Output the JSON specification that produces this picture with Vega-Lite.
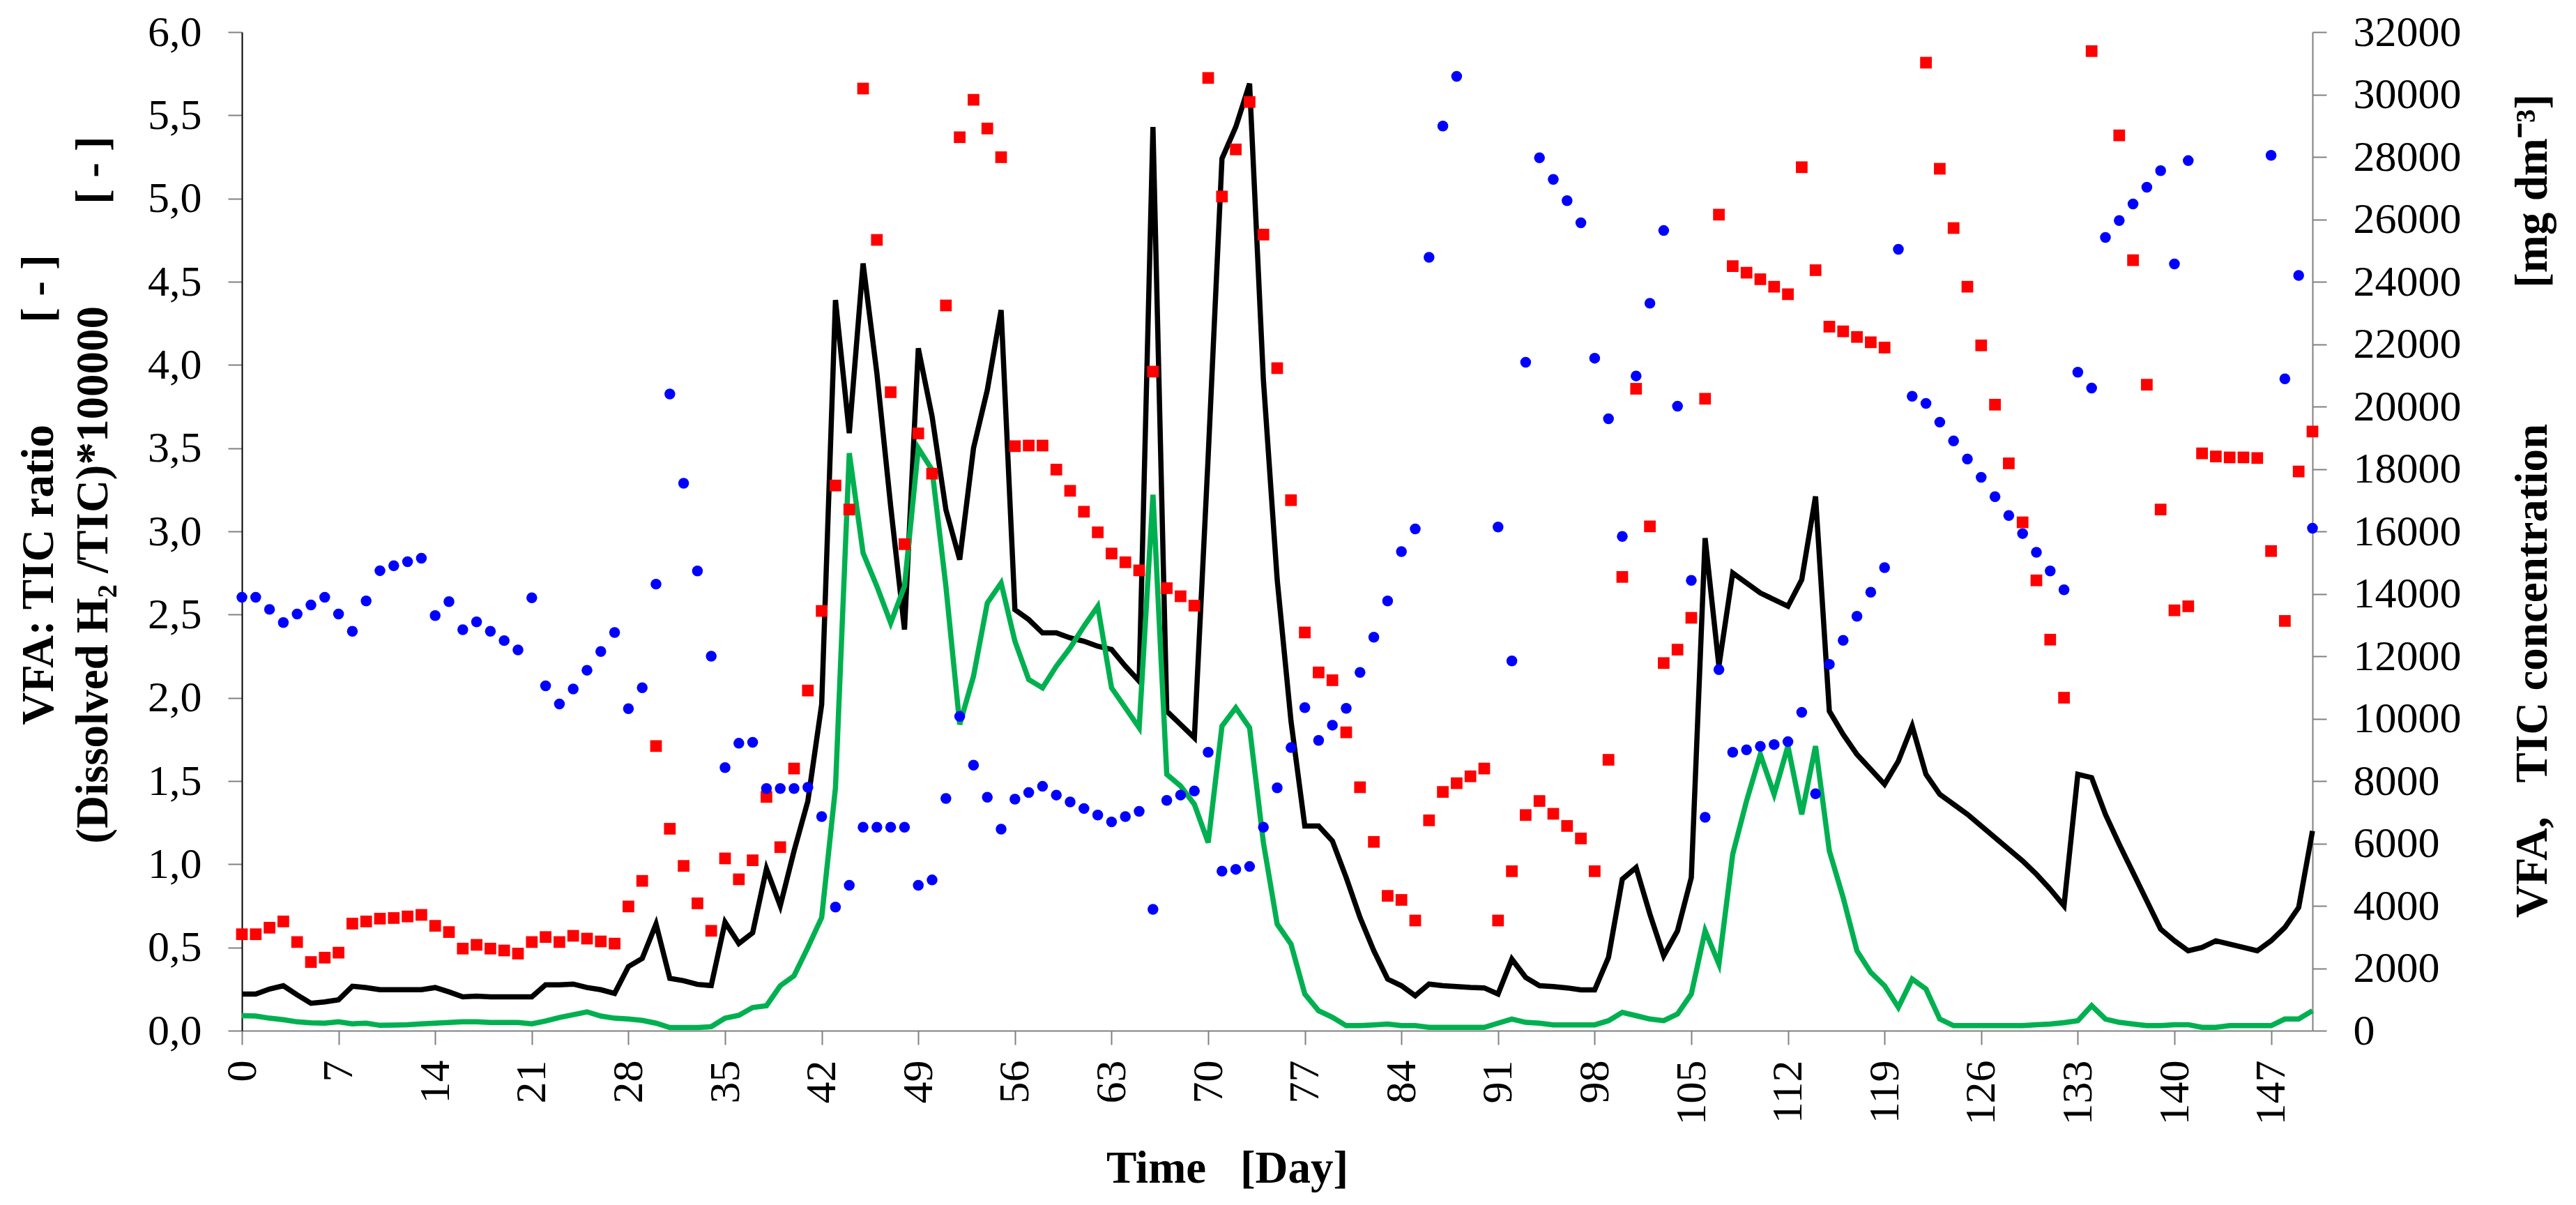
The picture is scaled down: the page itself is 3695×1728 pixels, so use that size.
{
  "$schema": "https://vega.github.io/schema/vega-lite/v6.json",
  "width": 2970,
  "height": 1432,
  "autosize": {"type": "none"},
  "padding": {"left": 347, "top": 46, "right": 378, "bottom": 250},
  "background": "white",
  "config": {
    "font": "Liberation Serif",
    "view": {"stroke": null},
    "axis": {
      "grid": false,
      "labelFont": "Liberation Serif",
      "labelFontSize": 62,
      "labelColor": "black",
      "titleFont": "Liberation Serif",
      "titleFontSize": 65,
      "titleFontWeight": "bold",
      "titleColor": "black",
      "tickColor": "#808080",
      "tickSize": 20,
      "tickWidth": 2,
      "domainColor": "#808080",
      "domainWidth": 2
    }
  },
  "data": {
    "values": [
      {"day": 0, "ratio": 0.22, "h2": 0.09, "vfa": 3090, "tic": 13890},
      {"day": 1, "ratio": 0.22, "h2": 0.088, "vfa": 3090, "tic": 13890},
      {"day": 2, "ratio": 0.25, "h2": 0.075, "vfa": 3300, "tic": 13500},
      {"day": 3, "ratio": 0.27, "h2": 0.066, "vfa": 3500, "tic": 13080},
      {"day": 4, "ratio": 0.215, "h2": 0.053, "vfa": 2840, "tic": 13350},
      {"day": 5, "ratio": 0.165, "h2": 0.047, "vfa": 2200, "tic": 13640},
      {"day": 6, "ratio": 0.173, "h2": 0.045, "vfa": 2340, "tic": 13890},
      {"day": 7, "ratio": 0.186, "h2": 0.053, "vfa": 2500, "tic": 13350},
      {"day": 8, "ratio": 0.267, "h2": 0.041, "vfa": 3430, "tic": 12800},
      {"day": 9, "ratio": 0.259, "h2": 0.045, "vfa": 3500, "tic": 13770},
      {"day": 10, "ratio": 0.246, "h2": 0.032, "vfa": 3590, "tic": 14740},
      {"day": 11, "ratio": 0.246, "h2": 0.034, "vfa": 3610, "tic": 14900},
      {"day": 12, "ratio": 0.246, "h2": 0.036, "vfa": 3660, "tic": 15030},
      {"day": 13, "ratio": 0.246, "h2": 0.041, "vfa": 3710, "tic": 15140},
      {"day": 14, "ratio": 0.259, "h2": 0.045, "vfa": 3360, "tic": 13300},
      {"day": 15, "ratio": 0.233, "h2": 0.049, "vfa": 3160, "tic": 13750},
      {"day": 16, "ratio": 0.203, "h2": 0.053, "vfa": 2630, "tic": 12850},
      {"day": 17, "ratio": 0.207, "h2": 0.053, "vfa": 2750, "tic": 13100},
      {"day": 18, "ratio": 0.203, "h2": 0.049, "vfa": 2630, "tic": 12800},
      {"day": 19, "ratio": 0.203, "h2": 0.049, "vfa": 2570, "tic": 12500},
      {"day": 20, "ratio": 0.203, "h2": 0.049, "vfa": 2470, "tic": 12200},
      {"day": 21, "ratio": 0.203, "h2": 0.041, "vfa": 2840, "tic": 13870},
      {"day": 22, "ratio": 0.276, "h2": 0.058, "vfa": 3000, "tic": 11050},
      {"day": 23, "ratio": 0.276, "h2": 0.079, "vfa": 2840, "tic": 10470},
      {"day": 24, "ratio": 0.28, "h2": 0.096, "vfa": 3040, "tic": 10950},
      {"day": 25, "ratio": 0.259, "h2": 0.113, "vfa": 2950, "tic": 11550},
      {"day": 26, "ratio": 0.246, "h2": 0.088, "vfa": 2860, "tic": 12150},
      {"day": 27, "ratio": 0.224, "h2": 0.075, "vfa": 2790, "tic": 12760},
      {"day": 28, "ratio": 0.385, "h2": 0.07, "vfa": 3980, "tic": 10320},
      {"day": 29, "ratio": 0.434, "h2": 0.062, "vfa": 4800, "tic": 10990},
      {"day": 30, "ratio": 0.641, "h2": 0.045, "vfa": 9120, "tic": 14310},
      {"day": 31, "ratio": 0.314, "h2": 0.019, "vfa": 6470, "tic": 20400},
      {"day": 32, "ratio": 0.3, "h2": 0.019, "vfa": 5280, "tic": 17540},
      {"day": 33, "ratio": 0.278, "h2": 0.019, "vfa": 4080, "tic": 14730},
      {"day": 34, "ratio": 0.271, "h2": 0.024, "vfa": 3200, "tic": 12000},
      {"day": 35, "ratio": 0.652, "h2": 0.075, "vfa": 5520, "tic": 8430},
      {"day": 36, "ratio": 0.524, "h2": 0.092, "vfa": 4850, "tic": 9210},
      {"day": 37, "ratio": 0.588, "h2": 0.139, "vfa": 5460, "tic": 9240},
      {"day": 38, "ratio": 0.973, "h2": 0.15, "vfa": 7490, "tic": 7760},
      {"day": 39, "ratio": 0.75, "h2": 0.27, "vfa": 5880, "tic": 7760},
      {"day": 40, "ratio": 1.08, "h2": 0.33, "vfa": 8400, "tic": 7760},
      {"day": 41, "ratio": 1.38, "h2": 0.5, "vfa": 10900, "tic": 7800},
      {"day": 42, "ratio": 1.96, "h2": 0.68, "vfa": 13450, "tic": 6860},
      {"day": 43, "ratio": 4.39, "h2": 1.46, "vfa": 17470, "tic": 3960},
      {"day": 44, "ratio": 3.59, "h2": 3.47, "vfa": 16700, "tic": 4660},
      {"day": 45, "ratio": 4.61, "h2": 2.87, "vfa": 30190, "tic": 6520},
      {"day": 46, "ratio": 3.95, "h2": 2.67, "vfa": 25340, "tic": 6520},
      {"day": 47, "ratio": 3.15, "h2": 2.45, "vfa": 20460, "tic": 6520},
      {"day": 48, "ratio": 2.41, "h2": 2.67, "vfa": 15590, "tic": 6520},
      {"day": 49, "ratio": 4.1, "h2": 3.5, "vfa": 19140, "tic": 4660},
      {"day": 50, "ratio": 3.69, "h2": 3.37, "vfa": 17850, "tic": 4830},
      {"day": 51, "ratio": 3.13, "h2": 2.67, "vfa": 23240, "tic": 7440},
      {"day": 52, "ratio": 2.83, "h2": 1.84, "vfa": 28630, "tic": 10070},
      {"day": 53, "ratio": 3.5, "h2": 2.13, "vfa": 29830, "tic": 8510},
      {"day": 54, "ratio": 3.85, "h2": 2.57, "vfa": 28910, "tic": 7480},
      {"day": 55, "ratio": 4.33, "h2": 2.69, "vfa": 27990, "tic": 6460},
      {"day": 56, "ratio": 2.53, "h2": 2.34, "vfa": 18730, "tic": 7420},
      {"day": 57, "ratio": 2.47, "h2": 2.11, "vfa": 18750, "tic": 7630},
      {"day": 58, "ratio": 2.39, "h2": 2.06, "vfa": 18750, "tic": 7830},
      {"day": 59, "ratio": 2.39, "h2": 2.19, "vfa": 17980, "tic": 7550},
      {"day": 60, "ratio": 2.36, "h2": 2.3, "vfa": 17300, "tic": 7330},
      {"day": 61, "ratio": 2.34, "h2": 2.43, "vfa": 16630, "tic": 7120},
      {"day": 62, "ratio": 2.31, "h2": 2.55, "vfa": 15970, "tic": 6910},
      {"day": 63, "ratio": 2.29, "h2": 2.06, "vfa": 15290, "tic": 6690},
      {"day": 64, "ratio": 2.19, "h2": 1.94, "vfa": 15010, "tic": 6860},
      {"day": 65, "ratio": 2.1, "h2": 1.82, "vfa": 14750, "tic": 7030},
      {"day": 66, "ratio": 5.43, "h2": 3.22, "vfa": 21120, "tic": 3890},
      {"day": 67, "ratio": 1.92, "h2": 1.54, "vfa": 14180, "tic": 7380},
      {"day": 68, "ratio": 1.84, "h2": 1.47, "vfa": 13920, "tic": 7550},
      {"day": 69, "ratio": 1.76, "h2": 1.36, "vfa": 13620, "tic": 7680},
      {"day": 70, "ratio": 3.45, "h2": 1.13, "vfa": 30530, "tic": 8920},
      {"day": 71, "ratio": 5.24, "h2": 1.83, "vfa": 26730, "tic": 5110},
      {"day": 72, "ratio": 5.43, "h2": 1.94, "vfa": 28240, "tic": 5170},
      {"day": 73, "ratio": 5.69, "h2": 1.82, "vfa": 29760, "tic": 5260},
      {"day": 74, "ratio": 3.91, "h2": 1.13, "vfa": 25510, "tic": 6520},
      {"day": 75, "ratio": 2.71, "h2": 0.64, "vfa": 21230, "tic": 7780},
      {"day": 76, "ratio": 1.86, "h2": 0.52, "vfa": 17000, "tic": 9070},
      {"day": 77, "ratio": 1.23, "h2": 0.22, "vfa": 12760, "tic": 10350},
      {"day": 78, "ratio": 1.23, "h2": 0.12, "vfa": 11480, "tic": 9300},
      {"day": 79, "ratio": 1.14, "h2": 0.08, "vfa": 11230, "tic": 9790},
      {"day": 80, "ratio": 0.92, "h2": 0.03, "vfa": 9560, "tic": 10330},
      {"day": 81, "ratio": 0.68, "h2": 0.03, "vfa": 7800, "tic": 11480},
      {"day": 82, "ratio": 0.48, "h2": 0.035, "vfa": 6050, "tic": 12610},
      {"day": 83, "ratio": 0.31, "h2": 0.04, "vfa": 4320, "tic": 13770},
      {"day": 84, "ratio": 0.27, "h2": 0.03, "vfa": 4190, "tic": 15350},
      {"day": 85, "ratio": 0.21, "h2": 0.03, "vfa": 3530, "tic": 16080},
      {"day": 86, "ratio": 0.28, "h2": 0.02, "vfa": 6740, "tic": 24780},
      {"day": 87, "ratio": 0.27, "h2": 0.02, "vfa": 7650, "tic": 28990},
      {"day": 88, "ratio": 0.265, "h2": 0.02, "vfa": 7930, "tic": 30580},
      {"day": 89, "ratio": 0.26, "h2": 0.02, "vfa": 8150, "tic": null},
      {"day": 90, "ratio": 0.257, "h2": 0.02, "vfa": 8400, "tic": null},
      {"day": 91, "ratio": 0.22, "h2": 0.045, "vfa": 3530, "tic": 16140},
      {"day": 92, "ratio": 0.43, "h2": 0.07, "vfa": 5110, "tic": 11850},
      {"day": 93, "ratio": 0.32, "h2": 0.05, "vfa": 6910, "tic": 21420},
      {"day": 94, "ratio": 0.27, "h2": 0.045, "vfa": 7360, "tic": 27970},
      {"day": 95, "ratio": 0.265, "h2": 0.035, "vfa": 6950, "tic": 27280},
      {"day": 96, "ratio": 0.257, "h2": 0.035, "vfa": 6560, "tic": 26600},
      {"day": 97, "ratio": 0.245, "h2": 0.035, "vfa": 6160, "tic": 25890},
      {"day": 98, "ratio": 0.245, "h2": 0.035, "vfa": 5110, "tic": 21550},
      {"day": 99, "ratio": 0.44, "h2": 0.06, "vfa": 8680, "tic": 19610},
      {"day": 100, "ratio": 0.91, "h2": 0.11, "vfa": 14540, "tic": 15840},
      {"day": 101, "ratio": 0.98, "h2": 0.09, "vfa": 20570, "tic": 20980},
      {"day": 102, "ratio": 0.7, "h2": 0.07, "vfa": 16160, "tic": 23310},
      {"day": 103, "ratio": 0.45, "h2": 0.06, "vfa": 11780, "tic": 25640},
      {"day": 104, "ratio": 0.6, "h2": 0.1, "vfa": 12210, "tic": 20010},
      {"day": 105, "ratio": 0.92, "h2": 0.22, "vfa": 13230, "tic": 14430},
      {"day": 106, "ratio": 2.96, "h2": 0.6, "vfa": 20250, "tic": 6840},
      {"day": 107, "ratio": 2.19, "h2": 0.4, "vfa": 26150, "tic": 11570},
      {"day": 108, "ratio": 2.75, "h2": 1.06, "vfa": 24500, "tic": 8920},
      {"day": 109, "ratio": 2.69, "h2": 1.38, "vfa": 24290, "tic": 9000},
      {"day": 110, "ratio": 2.63, "h2": 1.66, "vfa": 24080, "tic": 9110},
      {"day": 111, "ratio": 2.59, "h2": 1.42, "vfa": 23840, "tic": 9170},
      {"day": 112, "ratio": 2.55, "h2": 1.71, "vfa": 23600, "tic": 9260},
      {"day": 113, "ratio": 2.71, "h2": 1.3, "vfa": 27670, "tic": 10200},
      {"day": 114, "ratio": 3.21, "h2": 1.71, "vfa": 24370, "tic": 7590},
      {"day": 115, "ratio": 1.92, "h2": 1.08, "vfa": 22560, "tic": 11740},
      {"day": 116, "ratio": 1.78, "h2": 0.8, "vfa": 22410, "tic": 12510},
      {"day": 117, "ratio": 1.66, "h2": 0.48, "vfa": 22230, "tic": 13280},
      {"day": 118, "ratio": 1.57, "h2": 0.35, "vfa": 22060, "tic": 14050},
      {"day": 119, "ratio": 1.48, "h2": 0.27, "vfa": 21890, "tic": 14840},
      {"day": 120, "ratio": 1.62, "h2": 0.14, "vfa": null, "tic": 25040},
      {"day": 121, "ratio": 1.83, "h2": 0.31, "vfa": null, "tic": 20330},
      {"day": 122, "ratio": 1.54, "h2": 0.25, "vfa": 31020, "tic": 20100},
      {"day": 123, "ratio": 1.42, "h2": 0.07, "vfa": 27620, "tic": 19500},
      {"day": 124, "ratio": 1.36, "h2": 0.03, "vfa": 25720, "tic": 18900},
      {"day": 125, "ratio": 1.3, "h2": 0.03, "vfa": 23840, "tic": 18320},
      {"day": 126, "ratio": 1.23, "h2": 0.03, "vfa": 21960, "tic": 17730},
      {"day": 127, "ratio": 1.16, "h2": 0.03, "vfa": 20060, "tic": 17110},
      {"day": 128, "ratio": 1.09, "h2": 0.03, "vfa": 18180, "tic": 16510},
      {"day": 129, "ratio": 1.02, "h2": 0.03, "vfa": 16290, "tic": 15930},
      {"day": 130, "ratio": 0.94, "h2": 0.036, "vfa": 14430, "tic": 15330},
      {"day": 131, "ratio": 0.85, "h2": 0.04, "vfa": 12530, "tic": 14730},
      {"day": 132, "ratio": 0.75, "h2": 0.048, "vfa": 10670, "tic": 14130},
      {"day": 133, "ratio": 1.54, "h2": 0.06, "vfa": null, "tic": 21100},
      {"day": 134, "ratio": 1.52, "h2": 0.15, "vfa": 31390, "tic": 20590},
      {"day": 135, "ratio": 1.3, "h2": 0.07, "vfa": null, "tic": 25420},
      {"day": 136, "ratio": 1.12, "h2": 0.05, "vfa": 28690, "tic": 25960},
      {"day": 137, "ratio": 0.95, "h2": 0.04, "vfa": 24690, "tic": 26490},
      {"day": 138, "ratio": 0.78, "h2": 0.03, "vfa": 20700, "tic": 27030},
      {"day": 139, "ratio": 0.61, "h2": 0.03, "vfa": 16700, "tic": 27560},
      {"day": 140, "ratio": 0.54, "h2": 0.036, "vfa": 13470, "tic": 24570},
      {"day": 141, "ratio": 0.48, "h2": 0.036, "vfa": 13600, "tic": 27880},
      {"day": 142, "ratio": 0.5, "h2": 0.02, "vfa": 18500, "tic": null},
      {"day": 143, "ratio": 0.54, "h2": 0.02, "vfa": 18400, "tic": null},
      {"day": 144, "ratio": 0.52, "h2": 0.03, "vfa": 18370, "tic": null},
      {"day": 145, "ratio": 0.5, "h2": 0.03, "vfa": 18370, "tic": null},
      {"day": 146, "ratio": 0.48, "h2": 0.03, "vfa": 18350, "tic": null},
      {"day": 147, "ratio": 0.54, "h2": 0.03, "vfa": 15370, "tic": 28050},
      {"day": 148, "ratio": 0.62, "h2": 0.07, "vfa": 13130, "tic": 20890},
      {"day": 149, "ratio": 0.74, "h2": 0.07, "vfa": 17920, "tic": 24200},
      {"day": 150, "ratio": 1.2, "h2": 0.12, "vfa": 19200, "tic": 16100}
    ]
  },
  "encoding": {
    "x": {
      "field": "day",
      "type": "quantitative",
      "scale": {"domain": [0, 150], "nice": false, "zero": false},
      "axis": {
        "values": [0, 7, 14, 21, 28, 35, 42, 49, 56, 63, 70, 77, 84, 91, 98, 105, 112, 119, 126, 133, 140, 147],
        "labelAngle": 270,
        "labelPadding": 22,
        "title": "Time\u00a0\u00a0\u00a0[Day]",
        "titleX": 1413,
        "titleY": 217,
        "titleAlign": "center",
        "titleBaseline": "alphabetic"
      }
    }
  },
  "layer": [
    {
      "layer": [
        {
          "transform": [{"filter": "datum.ratio != null"}],
          "mark": {"type": "line", "color": "black", "strokeWidth": 7.5},
          "encoding": {
            "y": {
              "field": "ratio",
              "type": "quantitative",
              "scale": {"domain": [0, 6], "nice": false},
              "axis": {
                "values": [0, 0.5, 1, 1.5, 2, 2.5, 3, 3.5, 4, 4.5, 5, 5.5, 6],
                "labelExpr": "replace(format(datum.value, '.1f'), '.', ',')",
                "domainColor": "black",
                "labelPadding": 38,
                "title": [
                  "VFA: TIC ratio\u00a0\u00a0\u00a0\u00a0\u00a0\u00a0\u00a0\u00a0\u00a0[\u00a0-\u00a0]",
                  "(Dissolved H\u2082 /TIC)*100000\u00a0\u00a0\u00a0\u00a0\u00a0\u00a0\u00a0\u00a0\u00a0[\u00a0-\u00a0]"
                ],
                "titleAngle": 270,
                "titleX": -323,
                "titleY": 656,
                "titleAlign": "center",
                "titleBaseline": "top",
                "titleLineHeight": 78
              }
            }
          }
        },
        {
          "transform": [{"filter": "datum.h2 != null"}],
          "mark": {"type": "line", "color": "#00B050", "strokeWidth": 7.5},
          "encoding": {
            "y": {"field": "h2", "type": "quantitative"}
          }
        }
      ]
    },
    {
      "layer": [
        {
          "transform": [{"filter": "datum.vfa != null"}],
          "mark": {"type": "square", "color": "#FF0000", "size": 280, "opacity": 1},
          "encoding": {
            "y": {
              "field": "vfa",
              "type": "quantitative",
              "scale": {"domain": [0, 32000], "nice": false},
              "axis": {
                "orient": "right",
                "values": [0, 2000, 4000, 6000, 8000, 10000, 12000, 14000, 16000, 18000, 20000, 22000, 24000, 26000, 28000, 30000, 32000],
                "format": "d",
                "labelPadding": 38,
                "title": "VFA,\u00a0\u00a0\u00a0TIC concentration\u00a0\u00a0\u00a0\u00a0\u00a0\u00a0\u00a0\u00a0\u00a0\u00a0\u00a0\u00a0[mg dm\u207b\u00b3]",
                "titleAngle": 270,
                "titleX": 284,
                "titleY": 679,
                "titleAlign": "center",
                "titleBaseline": "top"
              }
            }
          }
        },
        {
          "transform": [{"filter": "datum.tic != null"}],
          "mark": {"type": "circle", "color": "#0000FF", "size": 240, "opacity": 1},
          "encoding": {
            "y": {"field": "tic", "type": "quantitative"}
          }
        }
      ]
    }
  ],
  "resolve": {"scale": {"y": "independent"}}
}
